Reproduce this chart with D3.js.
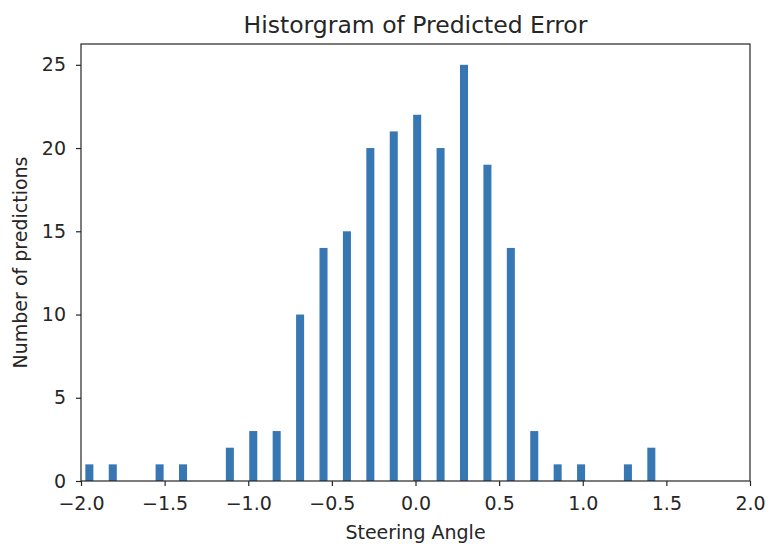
<!DOCTYPE html>
<html>
<head>
<meta charset="utf-8">
<script src="https://cdn.jsdelivr.net/npm/d3@7"></script>
<style>
  body { margin: 0; background: #fff; }
  text { font-family: "DejaVu Sans", sans-serif; fill: #262626; }
</style>
</head>
<body>
<script>
// data
var binCenters = [-1.95, -1.81, -1.53, -1.39, -1.11, -0.97, -0.83, -0.69, -0.55, -0.41, -0.27, -0.13,
                  0.01, 0.15, 0.29, 0.43, 0.57, 0.71, 0.85, 0.99, 1.27, 1.41];
var counts = [1, 1, 1, 1, 2, 3, 3, 10, 14, 15, 20, 21, 22, 20, 25, 19, 14, 3, 1, 1, 1, 2];
var xTicks = [-2.0, -1.5, -1.0, -0.5, 0.0, 0.5, 1.0, 1.5, 2.0];
var yTicks = [0, 5, 10, 15, 20, 25];
var barWidth = 0.048;

//setup
var margin = { top: 44, bottom: 69, right: 30, left: 81 };
var width = 780 - margin.left - margin.right;
var height = 550 - margin.top - margin.bottom;

var svg = d3.select("body")
    .append("svg")
    .attr("width", 780)
    .attr("height", 550)
    .append("g")
    .attr("transform", "translate(" + margin.left + "," + margin.top + ")");

var x = d3.scaleLinear().domain([-2, 2]).range([0, width]);
var y = d3.scaleLinear().domain([0, 26.25]).range([height, 0]);

// bars
var data = binCenters.map(function (c, i) { return { x: c, n: counts[i] }; });
svg.selectAll("rect.bar")
    .data(data)
    .enter().append("rect")
    .attr("class", "bar")
    .attr("x", function (d) { return x(d.x - barWidth / 2); })
    .attr("width", function (d) { return x(d.x + barWidth / 2) - x(d.x - barWidth / 2); })
    .attr("y", function (d) { return y(d.n); })
    .attr("height", function (d) { return height - y(d.n); })
    .attr("fill", "#3777b4");

// axes
var fmt = function (d) { return d3.format(".1f")(d).replace("-", "\u2212"); };
var xAxis = svg.append("g")
    .attr("transform", "translate(0," + height + ")")
    .call(d3.axisBottom(x).tickValues(xTicks).tickFormat(fmt).tickSize(5).tickPadding(11));
var yAxis = svg.append("g")
    .call(d3.axisLeft(y).tickValues(yTicks).tickSize(5).tickPadding(10));

[xAxis, yAxis].forEach(function (a) {
    a.select(".domain").remove();
    a.selectAll("line").attr("stroke", "#262626").attr("stroke-width", 1.2);
    a.selectAll("text").attr("font-size", 19).attr("font-family", "DejaVu Sans").attr("fill", "#262626");
});

// frame
svg.append("rect")
    .attr("width", width)
    .attr("height", height)
    .attr("fill", "none")
    .attr("stroke", "#262626")
    .attr("stroke-width", 1.2);

// title and labels
svg.append("text")
    .attr("x", width / 2)
    .attr("y", -11)
    .attr("text-anchor", "middle")
    .attr("font-size", 23.5)
    .text("Historgram of Predicted Error");

svg.append("text")
    .attr("x", width / 2)
    .attr("y", height + 58)
    .attr("text-anchor", "middle")
    .attr("font-size", 19)
    .text("Steering Angle");

svg.append("text")
    .attr("transform", "translate(" + (-54) + "," + (height / 2) + ") rotate(-90)")
    .attr("text-anchor", "middle")
    .attr("font-size", 19)
    .text("Number of predictions");
</script>
</body>
</html>
